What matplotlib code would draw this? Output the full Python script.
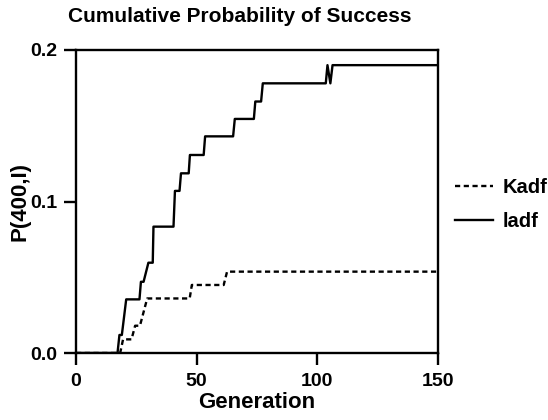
import matplotlib.pyplot as plt

plt.rcParams['font.family'] = ['Liberation Sans', 'DejaVu Sans']
plt.rcParams['font.weight'] = 'bold'

# ladf: corner points of the cumulative probability curve
ladf_gen = [0, 17.2, 18.0, 19.0, 20.8, 26.3, 26.9, 28.0, 30.0, 31.8, 32.1,
            40.4, 41.0, 42.9, 43.5, 46.7, 47.2, 52.9, 53.5, 65.1, 65.8,
            73.7, 74.3, 76.7, 77.4, 103.5, 104.2, 105.4, 106.3, 150]
ladf_p = [0, 0, 0.0119, 0.0119, 0.0354, 0.0354, 0.047, 0.047, 0.0596, 0.0596, 0.0834,
          0.0834, 0.107, 0.107, 0.1186, 0.1186, 0.1307, 0.1307, 0.143, 0.143, 0.1545,
          0.1545, 0.166, 0.166, 0.178, 0.178, 0.190, 0.178, 0.190, 0.190]

# Kadf: corner points
kadf_gen = [0, 18.3, 19.5, 23.0, 24.5, 26.5, 29.5, 47.1, 48.0, 61.2, 62.6, 150]
kadf_p = [0, 0, 0.009, 0.009, 0.018, 0.018, 0.036, 0.036, 0.0449, 0.0449, 0.0537, 0.0537]

fig = plt.figure(figsize=(5.48, 4.2), dpi=100)
ax = fig.add_axes([76 / 548, 67 / 420, 362 / 548, 303 / 420])

ax.plot(kadf_gen, kadf_p, color='black', lw=1.7, ls=(0, (2.2, 1.5)), label='Kadf')
ax.plot(ladf_gen, ladf_p, color='black', lw=1.7, label='ladf')

ax.set_xlim(0, 150)
ax.set_ylim(0, 0.2)
ax.set_xticks([0, 50, 100, 150])
ax.set_yticks([0.0, 0.1, 0.2])
ax.set_yticklabels(['0.0', '0.1', '0.2'])
for s in ax.spines.values():
    s.set_linewidth(1.7)
ax.tick_params(direction='out', length=8.5, width=1.7, labelsize=14)
ax.tick_params(axis='x', pad=6)
ax.tick_params(axis='y', pad=5)
for lab in ax.get_xticklabels() + ax.get_yticklabels():
    lab.set_fontweight('bold')

ax.set_xlabel('Generation', fontsize=16, fontweight='bold')
ax.xaxis.set_label_coords(0.5, -0.128)
ax.set_ylabel('P(400,I)', fontsize=16, fontweight='bold')
ax.yaxis.set_label_coords(-0.125, 0.5)
fig.text(240 / 548, 1 - 16 / 420, 'Cumulative Probability of Success',
         ha='center', va='center', fontsize=15, fontweight='bold')

leg = ax.legend(loc='center left', bbox_to_anchor=(1.047, 0.49), frameon=False,
                handlelength=1.9, fontsize=14.5, labelspacing=0.75, handletextpad=0.45,
                borderaxespad=0, borderpad=0)
for t in leg.get_texts():
    t.set_fontweight('bold')

fig.savefig('out.png', dpi=100)
